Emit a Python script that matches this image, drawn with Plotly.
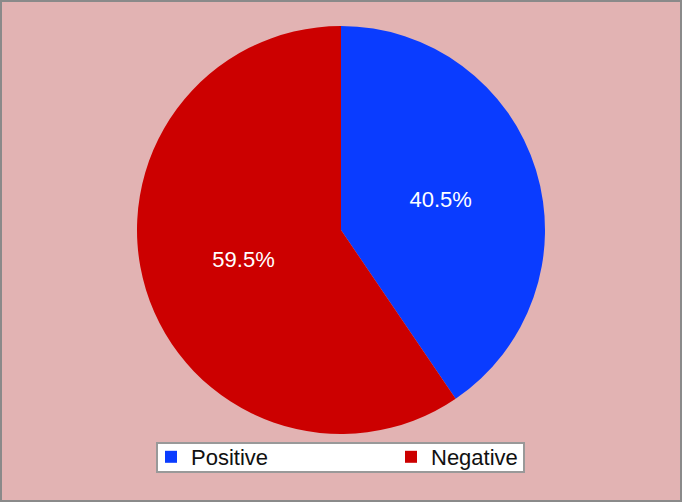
import plotly.graph_objects as go

# sentiment split
labels = ["Positive", "Negative"]
shares = [40.5, 59.5]
colors = ["#0A3CFF", "#CC0000"]

W, H = 682, 502

fig = go.Figure()
fig.add_trace(
    go.Pie(
        labels=labels,
        values=shares,
        sort=False,
        direction="clockwise",
        rotation=0,
        marker=dict(colors=colors, line=dict(width=0)),
        textinfo="percent",
        texttemplate="%{percent:.1%}",
        textposition="inside",
        insidetextfont=dict(color="white", size=22),
        domain=dict(x=[137 / W, 545 / W], y=[(H - 434) / H, (H - 26) / H]),
        hoverinfo="skip",
    )
)

fig.update_layout(
    width=W,
    height=H,
    margin=dict(l=0, r=0, t=0, b=0),
    paper_bgcolor="#E2B3B3",
    plot_bgcolor="#E2B3B3",
    font=dict(family="Liberation Sans, Arial, sans-serif", size=22, color="#111"),
    showlegend=True,
    legend=dict(
        orientation="h",
        x=151 / W,
        xanchor="left",
        y=(H - 436) / H,
        yanchor="top",
        bgcolor="rgba(0,0,0,0)",
        borderwidth=0,
        entrywidth=195,
        font=dict(size=22),
    ),
    shapes=[
        # outer frame
        dict(
            type="rect", xref="paper", yref="paper",
            x0=1 / W, x1=1 - 1 / W, y0=1 / H, y1=1 - 1 / H,
            line=dict(color="#8A8A8A", width=2),
        ),
        # legend box
        dict(
            type="rect", xref="paper", yref="paper", layer="below",
            x0=157 / W, x1=524 / W, y0=(H - 472) / H, y1=(H - 443) / H,
            fillcolor="white", line=dict(color="#999999", width=2),
        ),
    ],
)

fig.write_html(
    "out.html",
    config={"displayModeBar": False},
    post_script="document.body.style.margin='0';",
)
